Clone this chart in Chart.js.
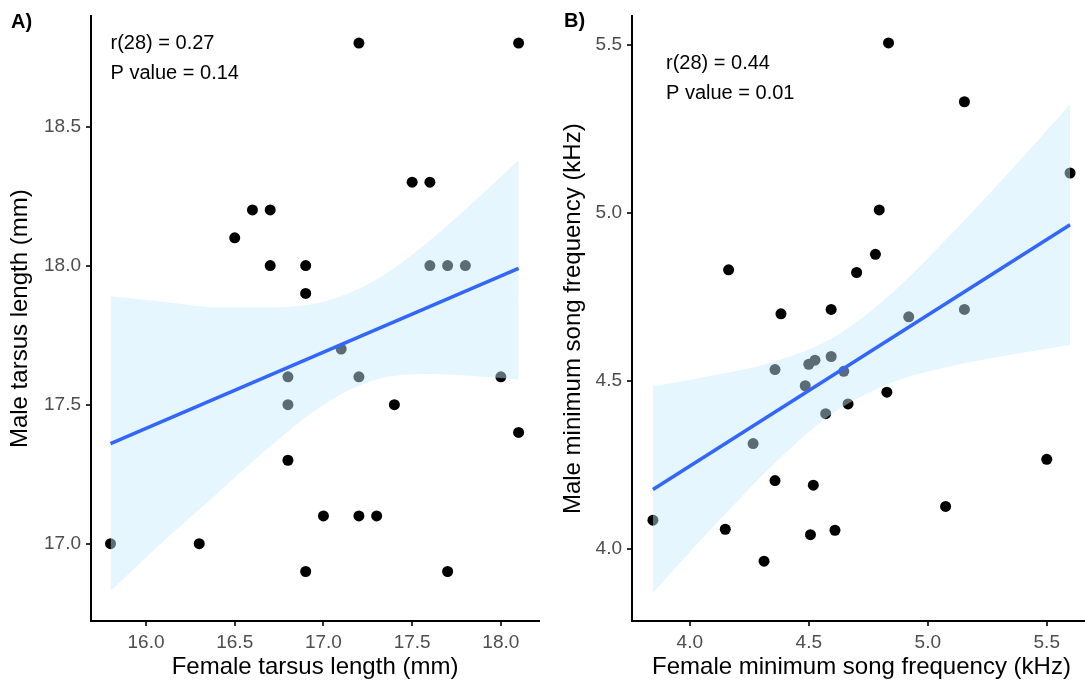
<!DOCTYPE html>
<html>
<head>
<meta charset="utf-8">
<script src="https://cdn.jsdelivr.net/npm/chart.js@4/dist/chart.umd.min.js"></script>
<style>
  html, body { margin: 0; padding: 0; background: #fff; overflow: hidden; }
  #wrap { position: relative; width: 1085px; height: 684px; overflow: hidden; }
  #boxA { position: absolute; left: 0; top: 0; }
  #boxB { position: absolute; left: 545px; top: 0; }
</style>
</head>
<body>
<div id="wrap">
  <div id="boxA"><canvas id="tarsus" width="545" height="684"></canvas></div>
  <div id="boxB"><canvas id="song" width="560" height="684"></canvas></div>
</div>
<script>
// Panel A: tarsus length, female vs male
const femaleTarsus = [17.2, 18.1, 17.5, 17.6, 16.6, 16.7, 16.5, 16.7, 16.9, 16.9, 17.6, 17.7, 17.8, 17.1,
                      16.8, 17.2, 18.0, 16.8, 17.4, 18.1, 16.8, 17.0, 17.2, 17.3, 15.8, 16.3, 16.9, 17.7];
const maleTarsus   = [18.8, 18.8, 18.3, 18.3, 18.2, 18.2, 18.1, 18.0, 18.0, 17.9, 18.0, 18.0, 18.0, 17.7,
                      17.6, 17.6, 17.6, 17.5, 17.5, 17.4, 17.3, 17.1, 17.1, 17.1, 17.0, 17.0, 16.9, 16.9];
const tarsusFitX = [15.8, 18.1];
const tarsusFitY = [17.36, 17.99];
const tarsusBandX     = [15.8, 16.1, 16.4, 16.7, 17.0, 17.3, 17.6, 17.9, 18.1];
const tarsusBandUpper = [17.89, 17.87, 17.85, 17.85, 17.87, 17.95, 18.09, 18.26, 18.38];
const tarsusBandLower = [16.83, 17.01, 17.18, 17.35, 17.50, 17.59, 17.61, 17.60, 17.59];
const tarsusTicksX = [16.0, 16.5, 17.0, 17.5, 18.0];
const tarsusTicksY = [17.0, 17.5, 18.0, 18.5];

// Panel B: minimum song frequency, female vs male
const femaleFreq = [4.835, 5.154, 5.598, 4.796, 4.780, 4.701, 4.163, 4.383, 4.594, 4.920, 5.154, 4.358, 4.500, 4.526, 4.594,
                    4.647, 4.485, 4.828, 4.665, 4.571, 4.266, 5.500, 4.358, 4.519, 5.075, 3.845, 4.149, 4.610, 4.507, 4.312];
const maleFreq   = [5.505, 5.330, 5.118, 5.008, 4.876, 4.822, 4.830, 4.699, 4.712, 4.690, 4.712, 4.533, 4.549, 4.561, 4.572,
                    4.528, 4.485, 4.466, 4.431, 4.402, 4.313, 4.266, 4.203, 4.189, 4.126, 4.085, 4.058, 4.055, 4.042, 3.963];
const songFitX = [3.845, 5.598];
const songFitY = [4.176, 4.964];
const songBandX     = [3.845, 4.1, 4.35, 4.6, 4.85, 5.1, 5.35, 5.598];
const songBandUpper = [4.483, 4.516, 4.556, 4.627, 4.761, 4.937, 5.127, 5.322];
const songBandLower = [3.869, 4.067, 4.250, 4.403, 4.495, 4.544, 4.577, 4.606];
const songTicksX = [4.0, 4.5, 5.0, 5.5];
const songTicksY = [4.0, 4.5, 5.0, 5.5];

const FONT = "'Liberation Sans', Arial, Helvetica, sans-serif";
Chart.defaults.font.family = FONT;

const pts = (xs, ys) => xs.map((x, i) => ({ x: x, y: ys[i] }));

// corner tag and the r / P value lines
const notes = {
    id: 'notes',
    afterDraw(chart, args, opts) {
        const ctx = chart.ctx;
        ctx.save();
        ctx.fillStyle = '#000';
        ctx.textBaseline = 'middle';
        ctx.textAlign = 'left';
        ctx.font = 'bold 20px ' + FONT;
        ctx.fillText(opts.tag, opts.tagX, opts.tagY);
        ctx.font = '20px ' + FONT;
        const x = chart.scales.x.getPixelForValue(opts.at[0]);
        const y = chart.scales.y.getPixelForValue(opts.at[1]);
        opts.lines.forEach((t, i) => ctx.fillText(t, x, y + i * 30));
        ctx.restore();
    }
};

function axis(min, max, ticks, title, size, titlePad) {
    return {
        type: 'linear',
        min: min,
        max: max,
        afterBuildTicks: s => { s.ticks = ticks.map(v => ({ value: v })); },
        afterFit: s => { if (s.isHorizontal()) s.height = 63; else s.width = size; },
        grid: { drawOnChartArea: false, drawTicks: true, tickLength: 5, lineWidth: 2, color: '#333' },
        border: { display: true, color: '#000', width: 2 },
        ticks: {
            color: '#4d4d4d', font: { size: 19 }, padding: 5,
            autoSkip: false, maxRotation: 0, callback: v => v.toFixed(1)
        },
        title: { display: true, text: title, color: '#000', font: { size: 24 }, padding: titlePad }
    };
}

function panel(id, d) {
    new Chart(document.getElementById(id), {
        type: 'scatter',
        data: {
            datasets: [
                {
                    type: 'line', data: pts(d.fitX, d.fitY), borderColor: '#3366FF', borderWidth: 3.5,
                    pointRadius: 0, fill: false, order: 1
                },
                {
                    type: 'line', data: pts(d.bandX, d.bandUpper), borderColor: 'rgba(0,0,0,0)',
                    pointRadius: 0, cubicInterpolationMode: 'monotone', fill: '+1',
                    backgroundColor: 'rgba(198,236,255,0.46)', order: 2
                },
                {
                    type: 'line', data: pts(d.bandX, d.bandLower), borderColor: 'rgba(0,0,0,0)',
                    pointRadius: 0, cubicInterpolationMode: 'monotone', fill: false, order: 2
                },
                {
                    data: pts(d.xs, d.ys), pointRadius: 5.5, backgroundColor: '#000',
                    borderWidth: 0, order: 3
                }
            ]
        },
        options: {
            responsive: false,
            animation: false,
            events: [],
            layout: { padding: { left: 0, right: d.padRight, top: 15, bottom: 0 } },
            scales: {
                x: axis(d.xMin, d.xMax, d.ticksX, d.xTitle, 0, { top: 0, bottom: 2 }),
                y: axis(d.yMin, d.yMax, d.ticksY, d.yTitle, d.yWidth, { top: d.yTitlePad, bottom: 0 })
            },
            plugins: {
                legend: { display: false },
                tooltip: { enabled: false },
                filler: { drawTime: 'beforeDatasetDraw' },
                notes: d.notes
            }
        },
        plugins: [notes]
    });
}

panel('tarsus', {
    xs: femaleTarsus, ys: maleTarsus,
    fitX: tarsusFitX, fitY: tarsusFitY,
    bandX: tarsusBandX, bandUpper: tarsusBandUpper, bandLower: tarsusBandLower,
    xMin: 15.69, xMax: 18.215, yMin: 16.722, yMax: 18.896,
    ticksX: tarsusTicksX, ticksY: tarsusTicksY,
    xTitle: 'Female tarsus length (mm)', yTitle: 'Male tarsus length (mm)',
    yWidth: 91, yTitlePad: 6, padRight: 6,
    notes: { tag: 'A)', tagX: 11, tagY: 22, at: [15.8, 18.8], lines: ['r(28) = 0.27', 'P value = 0.14'] }
});

panel('song', {
    xs: femaleFreq, ys: maleFreq,
    fitX: songFitX, fitY: songFitY,
    bandX: songBandX, bandUpper: songBandUpper, bandLower: songBandLower,
    xMin: 3.757, xMax: 5.686, yMin: 3.785, yMax: 5.584,
    ticksX: songTicksX, ticksY: songTicksY,
    xTitle: 'Female minimum song frequency (kHz)', yTitle: 'Male minimum song frequency (kHz)',
    yWidth: 87, yTitlePad: 14, padRight: 14,
    notes: { tag: 'B)', tagX: 19, tagY: 21, at: [3.9, 5.445], lines: ['r(28) = 0.44', 'P value = 0.01'] }
});
</script>
</body>
</html>
